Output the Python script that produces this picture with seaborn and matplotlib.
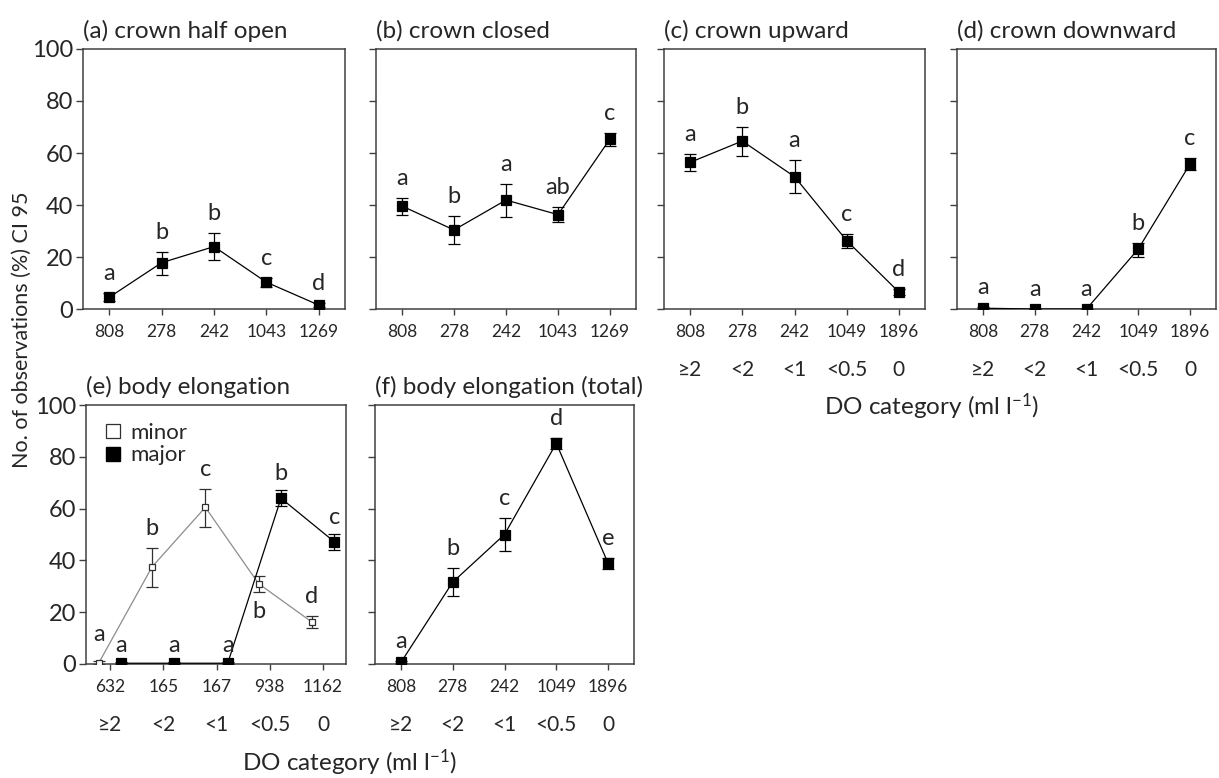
import numpy as np
import pandas as pd
import matplotlib
matplotlib.use("Agg")
import matplotlib.pyplot as plt
from matplotlib.lines import Line2D
import seaborn as sns

# categorias de oxigeno disuelto y tamaños de muestra
do_cats = ["≥2", "<2", "<1", "<0.5", "0"]
n_ab = ["808", "278", "242", "1043", "1269"]
n_cdf = ["808", "278", "242", "1049", "1896"]
n_e = ["632", "165", "167", "938", "1162"]

# (a) crown half open
a_mean = [4.5, 17.8, 24.0, 10.3, 1.5]
a_lo = [3.0, 13.0, 18.7, 8.6, 0.8]
a_hi = [6.0, 22.0, 29.4, 12.0, 2.4]
a_let = ["a", "b", "b", "c", "d"]

# (b) crown closed
b_mean = [39.6, 30.4, 41.9, 36.3, 65.4]
b_lo = [36.2, 24.9, 35.5, 33.3, 62.7]
b_hi = [42.8, 35.8, 48.2, 39.1, 67.8]
b_let = ["a", "b", "a", "ab", "c"]

# (c) crown upward
c_mean = [56.4, 64.6, 50.9, 26.3, 6.5]
c_lo = [52.9, 59.0, 44.6, 23.5, 5.3]
c_hi = [59.7, 70.1, 57.2, 29.0, 7.8]
c_let = ["a", "b", "a", "c", "d"]

# (d) crown downward
d_mean = [0.3, 0.0, 0.0, 23.1, 55.8]
d_lo = [0.0, 0.0, 0.0, 20.1, 53.5]
d_hi = [0.6, 0.0, 0.0, 25.3, 58.0]
d_let = ["a", "a", "a", "b", "c"]

# (e) body elongation, minor / major
e_minor_mean = [0.4, 37.5, 60.5, 31.0, 16.2]
e_minor_lo = [0.0, 29.9, 52.8, 27.9, 13.9]
e_minor_hi = [1.0, 44.9, 67.7, 33.8, 18.4]
e_minor_let = ["a", "b", "c", "b", "d"]
e_major_mean = [0.3, 0.3, 0.3, 64.0, 47.2]
e_major_lo = [0.0, 0.0, 0.0, 61.0, 44.1]
e_major_hi = [0.6, 0.6, 0.6, 67.0, 50.1]
e_major_let = ["a", "a", "a", "b", "c"]

# (f) body elongation (total)
f_mean = [0.6, 31.6, 50.0, 85.2, 38.9]
f_lo = [0.2, 26.1, 43.7, 83.0, 36.8]
f_hi = [1.0, 37.1, 56.3, 87.1, 41.1]
f_let = ["a", "b", "c", "d", "e"]

sns.set_style("ticks")
plt.rcParams["font.family"] = ["Lato", "DejaVu Sans"]
plt.rcParams["mathtext.default"] = "regular"
plt.rcParams["axes.edgecolor"] = "#404040"
plt.rcParams["axes.linewidth"] = 1.1

W, H = 1219, 778
fig = plt.figure(figsize=(W / 100, H / 100), dpi=100)


def rect(left, top, right, bottom):
    return [left / W, 1 - bottom / H, (right - left) / W, (bottom - top) / H]


def draw_series(ax, x, mean, lo, hi, lc="black", mfc="black", mec="black", ms=6.5, ec="black"):
    df = pd.DataFrame({"x": x, "y": mean})
    sns.lineplot(data=df, x="x", y="y", ax=ax, color=lc, lw=0.9, marker="s",
                 markersize=ms, markerfacecolor=mfc, markeredgecolor=mec,
                 markeredgewidth=0.9, errorbar=None, zorder=3)
    yerr = [np.subtract(mean, lo), np.subtract(hi, mean)]
    ax.errorbar(x, mean, yerr=yerr, fmt="none", ecolor=ec, elinewidth=0.9,
                capsize=4.5, capthick=0.9, zorder=2)


def letters(ax, x, hi, labs, off=5.0):
    for xi, yi, t in zip(x, hi, labs):
        ax.text(xi, yi + off, t, ha="center", va="baseline", fontsize=17)


def style_axes(ax, title, counts, ylabels=False, cats=False, xlim=(-0.5, 4.5)):
    ax.set_xlim(*xlim)
    ax.set_ylim(0, 100)
    ax.set_yticks(np.arange(0, 101, 20))
    ax.set_xticks(range(5))
    ax.set_xticklabels(counts, fontsize=12.5)
    if ylabels:
        ax.tick_params(axis="y", labelsize=17)
    else:
        ax.set_yticklabels([])
    ax.tick_params(axis="y", length=5, width=1, color="#404040", pad=2)
    ax.tick_params(axis="x", length=4, width=1, color="#404040", pad=7)
    ax.set_xlabel("")
    ax.set_ylabel("")
    ax.set_title(title, loc="left", fontsize=17.5, pad=8)
    for s in ax.spines.values():
        s.set_visible(True)
    if cats:
        tr = ax.get_xaxis_transform()
        for i, c in enumerate(do_cats):
            ax.text(i, -0.235, c, transform=tr, ha="center", va="center", fontsize=15)


x5 = np.arange(5)

ax_a = fig.add_axes(rect(83, 49, 345, 309))
draw_series(ax_a, x5, a_mean, a_lo, a_hi)
letters(ax_a, x5, a_hi, a_let)
style_axes(ax_a, "(a) crown half open", n_ab, ylabels=True)

ax_b = fig.add_axes(rect(376, 49, 636, 309))
draw_series(ax_b, x5, b_mean, b_lo, b_hi)
letters(ax_b, x5, b_hi, b_let)
style_axes(ax_b, "(b) crown closed", n_ab)

ax_c = fig.add_axes(rect(664, 49, 925, 309))
draw_series(ax_c, x5, c_mean, c_lo, c_hi)
letters(ax_c, x5, c_hi, c_let)
style_axes(ax_c, "(c) crown upward", n_cdf, cats=True)

ax_d = fig.add_axes(rect(957, 49, 1216, 309))
draw_series(ax_d, x5, d_mean, d_lo, d_hi)
letters(ax_d, x5, d_hi, d_let)
style_axes(ax_d, "(d) crown downward", n_cdf, cats=True)

ax_e = fig.add_axes(rect(86, 405, 346, 664))
xm = x5 - 0.21
xM = x5 + 0.21
draw_series(ax_e, xm, e_minor_mean, e_minor_lo, e_minor_hi, lc="#8c8c8c",
            mfc="white", mec="#303030", ms=5, ec="#303030")
draw_series(ax_e, xM, e_major_mean, e_major_lo, e_major_hi)
# la letra del punto 'minor' en <0.5 va por debajo
for i, t in enumerate(e_minor_let):
    if i == 3:
        ax_e.text(xm[i], e_minor_lo[i] - 10, t, ha="center", va="baseline", fontsize=17)
    else:
        ax_e.text(xm[i], e_minor_hi[i] + (8 if i == 0 else 5), t, ha="center", va="baseline", fontsize=17)
letters(ax_e, xM, e_major_hi, e_major_let, off=4)
style_axes(ax_e, "(e) body elongation", n_e, ylabels=True, cats=True, xlim=(-0.45, 4.43))
handles = [
    Line2D([], [], marker="s", ls="none", mfc="white", mec="#303030", ms=10, mew=0.9),
    Line2D([], [], marker="s", ls="none", mfc="black", mec="black", ms=10),
]
ax_e.legend(handles, ["minor", "major"], loc="upper left", frameon=False, fontsize=16,
            handletextpad=0.3, labelspacing=0.1, borderaxespad=0.3, handlelength=1.0,
            bbox_to_anchor=(0.0, 0.99))

ax_f = fig.add_axes(rect(375, 405, 634, 664))
draw_series(ax_f, x5, f_mean, f_lo, f_hi)
letters(ax_f, x5, f_hi, f_let)
style_axes(ax_f, "(f) body elongation (total)", n_cdf, cats=True)

fig.text(22 / W, 1 - 330 / H, "No. of observations (%) CI 95", rotation=90,
         ha="center", va="center", fontsize=15.5)
fig.text(932 / W, 1 - 407 / H, "DO category (ml l$^{-1}$)", ha="center", va="center", fontsize=17.5)
fig.text(350 / W, 1 - 763 / H, "DO category (ml l$^{-1}$)", ha="center", va="center", fontsize=17.5)

fig.savefig("out.png", dpi=100)
